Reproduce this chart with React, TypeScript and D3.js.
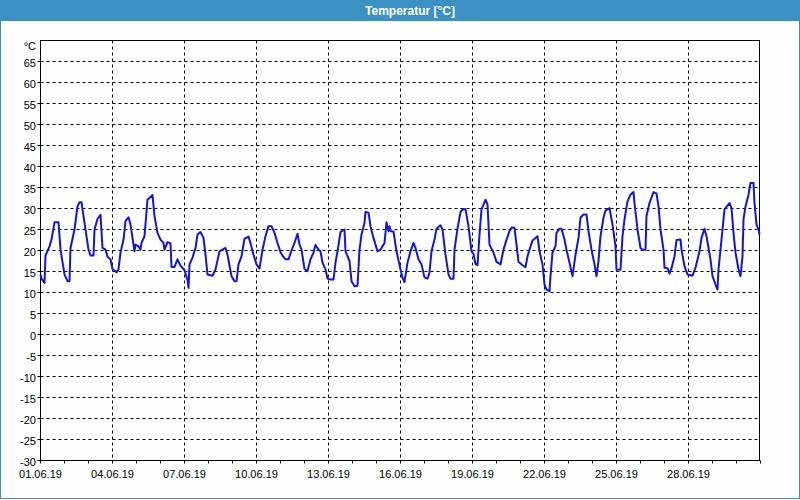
import * as d3 from 'd3';

// hours since 01.06.19 00:00 and temperature readings (°C)
const hours = [
  0, 1, 4, 5, 9, 11, 14, 18, 20, 24, 27, 29, 30, 34, 37, 39, 41, 44, 48, 50, 53, 54, 57, 60, 62, 65, 67, 70, 72, 76,
  78, 80, 83, 85, 88, 90, 94, 95, 98, 100, 101, 104, 107, 112, 114, 117, 120, 123, 124, 127, 130, 131, 134, 137, 140,
  144, 147, 148, 149, 152, 155, 157, 160, 163, 165, 167, 172, 175, 179, 182, 185, 187, 191, 194, 196, 198, 201, 204,
  208, 210, 213, 216, 219, 222, 225, 228, 231, 234, 237, 240, 242, 245, 248, 251, 254, 257, 259, 261, 264, 267, 270,
  273, 275, 278, 280, 282, 285, 287, 290, 293, 295, 297, 300, 304, 305, 309, 311, 314, 317, 319, 321, 324, 325, 328,
  330, 333, 335, 337, 340, 342, 344, 346, 348, 349, 350, 353, 356, 360, 362, 364, 367, 370, 373, 375, 378, 381, 384,
  387, 389, 391, 394, 396, 400, 402, 405, 408, 410, 413, 414, 417, 420, 423, 425, 428, 431, 433, 435, 437, 439, 441,
  445, 447, 449, 453, 456, 460, 463, 465, 469, 471, 474, 476, 478, 482, 485, 487, 489, 492, 495, 497, 499, 502, 504,
  506, 509, 510, 512, 515, 516, 519, 521, 524, 526, 529, 532, 535, 538, 540, 543, 546, 548, 551, 554, 556, 558, 560,
  563, 565, 569, 572, 575, 576, 580, 582, 584, 587, 590, 593, 594, 597, 600, 602, 605, 606, 609, 613, 616, 618, 620,
  623, 624, 627, 629, 631, 634, 636, 640, 641, 644, 647, 652, 655, 659, 661, 664, 666, 670, 672, 675, 677, 678, 680,
  682, 684, 689, 691, 693, 695, 698, 700, 702, 703, 705, 708, 710, 713, 714, 716, 718, 719,
];
const temps = [
  14.3, 13.3, 12.3, 18.8, 21, 22.6, 26.7, 26.7, 20.2, 14.3, 12.7, 12.7, 20.6, 25, 30.5, 31.5, 31.5, 26.6, 20.2, 18.8,
  18.8, 25, 27.5, 28.5, 20.6, 20.2, 18.5, 17.9, 15.6, 14.8, 15.5, 19.5, 22.6, 27, 27.9, 26.2, 19.8, 21.4, 21, 20.2,
  21.8, 23.4, 32.1, 33.2, 28.2, 24.2, 22.6, 21.8, 20.2, 22, 21.7, 16.1, 16.1, 17.9, 16.4, 15.3, 13, 11.1, 16.7, 18.3,
  20.6, 23.8, 24.4, 23, 19, 14.3, 14, 15.5, 19.8, 20.2, 20.6, 19, 13.9, 12.7, 12.7, 16.7, 18.6, 22.8, 23.3, 21.8, 19,
  16.7, 15.7, 20.2, 23.4, 25.8, 25.8, 24.2, 21.8, 19.6, 18.8, 17.9, 17.9, 20, 21.8, 24, 21.4, 20.2, 15.6, 15.1, 17.9,
  19.5, 21.3, 20.2, 19.8, 17.1, 15.5, 13.3, 13.1, 13.1, 17.1, 19.8, 24.4, 25, 19.8, 17.5, 12.7, 11.5, 11.6, 20.2,
  23.8, 26.6, 29.2, 29, 25.8, 23, 21.4, 19.8, 20.2, 21, 21.8, 26.7, 24.6, 25.8, 24.6, 24.5, 19.8, 15.5, 13.5, 12.5,
  17.1, 19.8, 21.8, 20.6, 17.9, 16.7, 13.6, 13.3, 14.7, 19.8, 22.6, 25.2, 26, 25, 19, 14.3, 13.3, 13.3, 20.2, 25.2,
  29.2, 29.9, 29.8, 25.8, 19.8, 19.2, 16.8, 16.5, 23.8, 29.8, 32.1, 31, 21.4, 19.5, 17.3, 16.7, 20.2, 21.8, 24.6,
  25.5, 25.4, 21.4, 17.3, 16.5, 16, 18.6, 20.2, 22.4, 23, 23.4, 19.8, 16.7, 11.9, 10.7, 10.3, 13.9, 19.5, 21, 24.2,
  25.2, 25.2, 22.6, 20.2, 17.1, 13.9, 19, 23, 27.8, 28.6, 28.6, 24.6, 20.2, 16.7, 13.9, 17.5, 23.4, 27.8, 29.5, 30.1,
  26.2, 21, 15.5, 15.4, 23.4, 27.4, 31.7, 33.3, 33.9, 31.3, 25, 20.6, 20.2, 20.2, 28.2, 31.3, 33.9, 33.6, 30.5, 25,
  20.2, 15.9, 15.8, 14.5, 15.8, 18.6, 22.5, 22.6, 20.2, 16.3, 14.3, 14, 15.9, 19.8, 23, 25.2, 23.4, 17.9, 13.9, 11.9,
  10.7, 15.5, 20.2, 25, 29.8, 31.3, 30.1, 24.2, 19.5, 15.5, 13.9, 18.6, 27.4, 30.5, 33.3, 36.1, 36.1, 31.3, 26.2, 25,
  23.8,
];

const yTicks = d3.range(-30, 70, 5);
const xLabelDays = d3.range(0, 30, 3);
const title = 'Temperatur [°C]';
const unit = '°C';

const W = 800;
const H = 500;
const left = 40.5;
const right = 760.5;
const top = 40.5;
const bottom = 460.5;
const start = new Date(2019, 5, 1);
const end = new Date(2019, 6, 1);
const font = '"Liberation Sans", Arial, sans-serif';

export default function App() {
  const x = d3.scaleTime().domain([start, end]).range([left, right]);
  const y = d3.scaleLinear().domain([-30, 70]).range([bottom, top]);
  const fmt = d3.timeFormat('%d.%m.%y');

  const points = hours.map((h, i) => ({ t: d3.timeHour.offset(start, h), v: temps[i] }));
  const line = d3
    .line<{ t: Date; v: number }>()
    .x((d) => x(d.t))
    .y((d) => y(d.v));

  const dayTicks = d3.timeDay.range(start, d3.timeDay.offset(end, 1));

  return (
    <svg width={W} height={H} style={{ position: 'absolute', left: 0, top: 0 }}>
      <rect x={0} y={0} width={W} height={H} fill="#fdfefd" />
      <rect x={0} y={0} width={W} height={21} fill="#3c91c4" />
      <text x={410} y={15} fill="#fff" fontFamily={font} fontWeight="bold" fontSize={12} textAnchor="middle">
        {title}
      </text>
      <rect x={0.5} y={20.5} width={W - 1} height={H - 22} fill="none" stroke="#3c91c4" strokeWidth={1} />
      <line x1={0} x2={W} y1={H - 1.5} y2={H - 1.5} stroke="#3c91c4" />

      {/* grid */}
      {yTicks
        .filter((v) => v > -30)
        .map((v) => (
          <line key={'gy' + v} x1={left} x2={right} y1={y(v)} y2={y(v)} stroke="#000" strokeDasharray="3,3" />
        ))}
      {xLabelDays
        .filter((d) => d > 0)
        .map((d) => {
          const px = x(d3.timeDay.offset(start, d));
          return <line key={'gx' + d} x1={px} x2={px} y1={top} y2={bottom} stroke="#000" strokeDasharray="3,3" />;
        })}

      {/* frame */}
      <rect x={left} y={top} width={right - left - 1} height={bottom - top} fill="none" stroke="#000" />

      {/* y axis */}
      {yTicks.map((v) => (
        <g key={'ty' + v}>
          <line x1={left - 3} x2={left} y1={y(v)} y2={y(v)} stroke="#000" />
          <text x={36} y={y(v) + 5} fontFamily={font} fontSize={11} textAnchor="end" fill="#000">
            {v}
          </text>
        </g>
      ))}
      <text x={36} y={y(70) + 9} fontFamily={font} fontSize={11} textAnchor="end" fill="#000">
        {unit}
      </text>

      {/* x axis */}
      {dayTicks.map((d) => (
        <line key={'tx' + d.getTime()} x1={x(d)} x2={x(d)} y1={bottom} y2={bottom + 3} stroke="#000" />
      ))}
      {xLabelDays.map((d) => {
        const t = d3.timeDay.offset(start, d);
        return (
          <text key={'lx' + d} x={x(t)} y={478} fontFamily={font} fontSize={11} textAnchor="middle" fill="#000">
            {fmt(t)}
          </text>
        );
      })}

      <path d={line(points) || ''} fill="none" stroke="#1414dc" strokeWidth={2} strokeLinejoin="round" />
    </svg>
  );
}
